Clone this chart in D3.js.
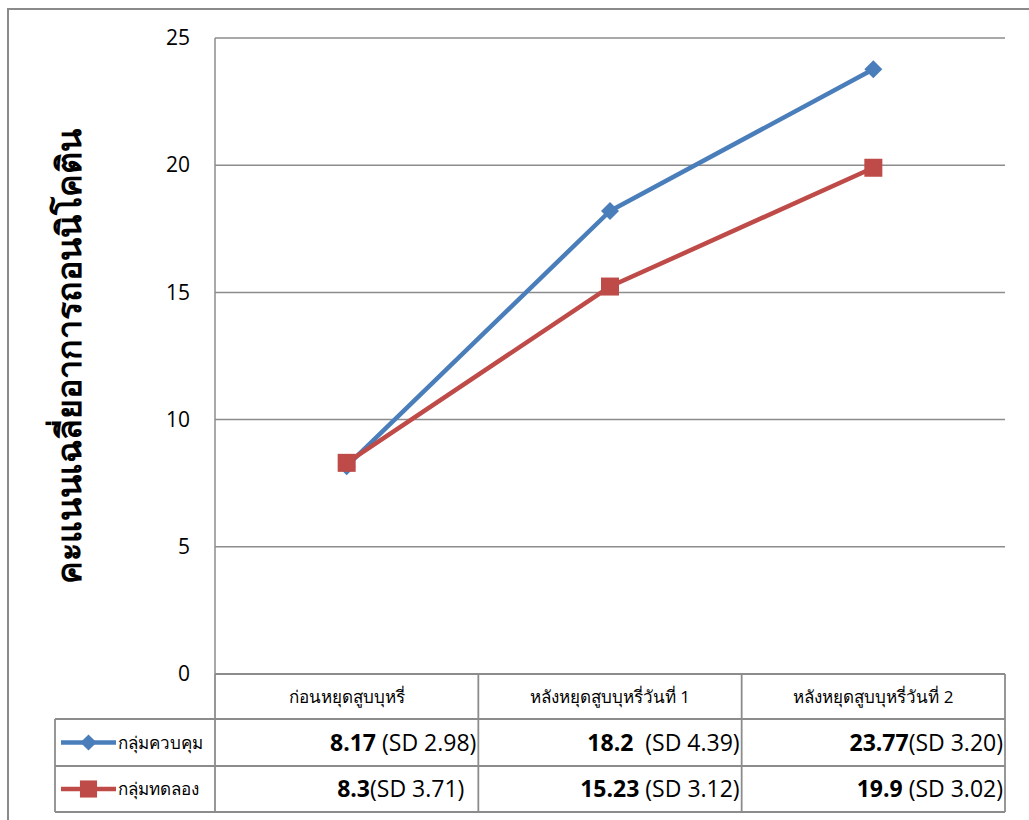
<!DOCTYPE html>
<html>
<head>
<meta charset="utf-8">
<script src="https://cdn.jsdelivr.net/npm/d3@7/dist/d3.min.js"></script>
<style>
  html, body { margin: 0; padding: 0; background: #fff; }
  svg { display: block; }
  text { font-family: "Open Sans", "Noto Sans", "Liberation Sans", sans-serif; }
</style>
</head>
<body>
<svg id="chart" width="1029" height="820"></svg>
<script>
// Stages of smoking cessation
const categories = ["ก่อนหยุดสูบบุหรี่", "หลังหยุดสูบบุหรี่วันที่ 1", "หลังหยุดสูบบุหรี่วันที่ 2"];

// Mean nicotine-withdrawal scores per group
const seriesNames = ["กลุ่มควบคุม", "กลุ่มทดลอง"];
const controlMeans = [8.17, 18.2, 23.77];
const experimentMeans = [8.3, 15.23, 19.9];

// Standard deviation text shown beside each mean in the data table
const controlSD = [" (SD 2.98)", "  (SD 4.39)", "(SD 3.20)"];
const experimentSD = ["(SD 3.71)  ", " (SD 3.12)", " (SD 3.02)"];

const yTicks = [0, 5, 10, 15, 20, 25];
const yTitle = "คะแนนเฉลี่ยอาการถอนนิโคติน";

const colors = ["#4A7EBB", "#BE4B48"];
const gridColor = "#8c8c8c";

const series = [
  { name: seriesNames[0], values: controlMeans, sd: controlSD, color: colors[0], marker: "diamond" },
  { name: seriesNames[1], values: experimentMeans, sd: experimentSD, color: colors[1], marker: "square" }
];

const svg = d3.select("#chart");

// Chart frame
svg.append("rect")
  .attr("x", 8).attr("y", 9)
  .attr("width", 1040).attr("height", 830)
  .attr("fill", "none").attr("stroke", "#8a8a8a").attr("stroke-width", 2);

const plot = { left: 215, right: 1005, top: 38, bottom: 674 };

const x = d3.scaleBand()
  .domain(categories)
  .range([plot.left, plot.right])
  .padding(0);

const y = d3.scaleLinear()
  .domain([0, 25])
  .range([plot.bottom, plot.top]);

// Horizontal gridlines
svg.append("g")
  .selectAll("line")
  .data(yTicks)
  .join("line")
  .attr("x1", plot.left).attr("x2", plot.right)
  .attr("y1", d => y(d)).attr("y2", d => y(d))
  .attr("stroke", gridColor).attr("stroke-width", 1.5);

// Vertical axis line
svg.append("line")
  .attr("x1", plot.left).attr("x2", plot.left)
  .attr("y1", plot.top).attr("y2", plot.bottom)
  .attr("stroke", gridColor).attr("stroke-width", 1.5);

// Y axis tick labels
const yAxis = d3.axisLeft(y).tickValues(yTicks).tickSize(0).tickPadding(25);
const yAxisG = svg.append("g")
  .attr("transform", `translate(${plot.left},0)`)
  .call(yAxis);
yAxisG.select(".domain").remove();
yAxisG.selectAll("text")
  .attr("font-size", 21)
  .attr("fill", "#000")
  .style("font-family", "'Open Sans', 'Noto Sans', sans-serif");

// Y axis title
svg.append("text")
  .attr("transform", `translate(81, ${(plot.top + plot.bottom) / 2}) rotate(-90)`)
  .attr("text-anchor", "middle")
  .attr("font-size", 34)
  .attr("font-weight", "bold")
  .attr("fill", "#000")
  .text(yTitle);

// Lines and markers
const line = d3.line()
  .x((d, i) => x(categories[i]) + x.bandwidth() / 2)
  .y(d => y(d));

function drawMarker(g, type, color, cx, cy, scale) {
  const s = 9 * scale;
  if (type === "diamond") {
    g.append("path")
      .attr("d", `M${cx},${cy - s}L${cx + s},${cy}L${cx},${cy + s}L${cx - s},${cy}Z`)
      .attr("fill", color);
  } else {
    g.append("rect")
      .attr("x", cx - s).attr("y", cy - s)
      .attr("width", 2 * s).attr("height", 2 * s)
      .attr("fill", color);
  }
}

series.forEach(s => {
  const g = svg.append("g");
  g.append("path")
    .datum(s.values)
    .attr("d", line)
    .attr("fill", "none")
    .attr("stroke", s.color)
    .attr("stroke-width", 4.5)
    .attr("stroke-linejoin", "round");
  s.values.forEach((v, i) => {
    drawMarker(g, s.marker, s.color, x(categories[i]) + x.bandwidth() / 2, y(v), 1);
  });
});

// Data table below the plot
const table = { left: 55, headerBottom: 719, rowBottoms: [766, 812] };
const rowTops = [table.headerBottom, table.rowBottoms[0]];
const tableG = svg.append("g");

function hline(x1, x2, yy) {
  tableG.append("line").attr("x1", x1).attr("x2", x2).attr("y1", yy).attr("y2", yy)
    .attr("stroke", gridColor).attr("stroke-width", 1.8);
}
function vline(xx, y1, y2) {
  tableG.append("line").attr("x1", xx).attr("x2", xx).attr("y1", y1).attr("y2", y2)
    .attr("stroke", gridColor).attr("stroke-width", 1.8);
}

hline(plot.left, plot.right, plot.bottom);
hline(table.left, plot.right, table.headerBottom);
table.rowBottoms.forEach(yy => hline(table.left, plot.right, yy));
vline(table.left, table.headerBottom, table.rowBottoms[1]);
categories.forEach(c => vline(x(c), plot.bottom, table.rowBottoms[1]));
vline(plot.right, plot.bottom, table.rowBottoms[1]);

// Category headers
tableG.selectAll("text.cat")
  .data(categories)
  .join("text")
  .attr("class", "cat")
  .attr("x", d => x(d) + x.bandwidth() / 2)
  .attr("y", (plot.bottom + table.headerBottom) / 2 + 6)
  .attr("text-anchor", "middle")
  .attr("font-size", 17)
  .attr("fill", "#000")
  .text(d => d);

// Rows: legend key + values
series.forEach((s, r) => {
  const cy = (rowTops[r] + table.rowBottoms[r]) / 2;
  tableG.append("line")
    .attr("x1", 61).attr("x2", 116).attr("y1", cy).attr("y2", cy)
    .attr("stroke", s.color).attr("stroke-width", 4.5);
  drawMarker(tableG, s.marker, s.color, 88.5, cy, s.marker === "diamond" ? 0.9 : 0.95);
  tableG.append("text")
    .attr("x", 118).attr("y", cy + 6)
    .attr("font-size", 17)
    .attr("fill", "#000")
    .text(s.name);

  s.values.forEach((v, i) => {
    const t = tableG.append("text")
      .attr("x", x(categories[i]) + x.bandwidth() - 2)
      .attr("y", cy + 8)
      .attr("text-anchor", "end")
      .attr("font-size", 23)
      .attr("fill", "#000")
      .style("white-space", "pre");
    t.append("tspan").attr("font-weight", "bold").text(String(v));
    t.append("tspan").text(s.sd[i]);
  });
});
</script>
</body>
</html>
